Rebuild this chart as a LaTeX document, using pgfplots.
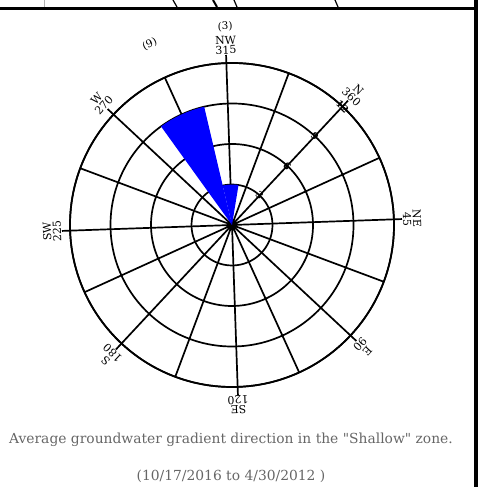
\documentclass[border=0pt]{standalone}
\usepackage{fontspec}
\setmainfont{DejaVu Serif}[Ligatures=TeXOff]
\usepackage{pgfplots}
\usepackage{pgfplotstable}
\pgfplotsset{compat=1.18}
\usepgfplotslibrary{polar}
% compass bins: direction (deg), count
\pgfplotstableread{
dir r
0 0
281.25 9
284 9
287 9
290 9
292.5 9
295 9
298 9
301 9
303.75 9
0 0
}\wedgeA
\pgfplotstableread{
dir r
0 0
303.75 3
309.4 3
315 3
320.6 3
326.25 3
0 0
}\wedgeB
\begin{document}
\begin{tikzpicture}[x=1bp,y=1bp]
\useasboundingbox (0,0) rectangle (491,487);
% remnants of frame above
\draw[line width=3bp] (0,478.5) -- (476,478.5);
\draw[line width=4bp] (476,487) -- (476,0);
\draw[gray!60, line width=1bp] (44,487) -- (44,480);
\draw[line width=1.2bp] (173,487) -- (177,480);
\draw[line width=2bp] (213,487) -- (217,480);
\draw[line width=1.2bp] (234,487) -- (237,480);
\draw[line width=1.2bp] (335,487) -- (338,480);
\begin{polaraxis}[
  at={(232bp,262bp)}, anchor=center,
  scale only axis, width=324bp, height=324bp,
  ymin=0, ymax=12,
  xtick={2,24.5,47,69.5,92,114.5,137,159.5,182,204.5,227,249.5,272,294.5,317,339.5},
  ytick={3,6,9,12},
  xticklabels={}, yticklabels={},
  grid=major,
  grid style={black, line width=1.7bp},
  major grid style={black, line width=1.7bp},
  x axis line style={black, line width=1.7bp},
  y axis line style={draw=none},
  major tick style={draw=none},
  clip=false,
]
\addplot[fill=blue, draw=none] table[x expr={47-\thisrow{dir}}, y=r] {\wedgeA};
\addplot[fill=blue, draw=none] table[x expr={47-\thisrow{dir}}, y=r] {\wedgeB};
% main spokes extend beyond rim
\foreach \a in {2,47,92,137,182,227,272,317}{
  \edef\tmp{\noexpand\draw[black, line width=1.7bp] (axis cs:\a,11.9) -- (axis cs:\a,12.6);}\tmp
}
% direction labels
\foreach \a/\n/\d in {47/N/360, 2/NE/45, 317/E/90, 272/SE/120, 227/S/180, 182/SW/225, 137/W/270, 92/NW/315}{
  \pgfmathsetmacro{\rot}{\a-90}
  \edef\tmp{\noexpand\node[anchor=south, rotate=\rot, align=center, inner sep=0bp, font=\noexpand\fontsize{11}{10}\noexpand\selectfont] at (axis cs:\a,12.65) {\n\noexpand\\\d};}\tmp
}
% counts
\node[rotate=24.5, font=\fontsize{10.5}{10}\selectfont] at (axis cs:114.5,14.7) {(9)};
\node[rotate=2, font=\fontsize{10.5}{10}\selectfont] at (axis cs:92,14.7) {(3)};
% radial labels along N spoke
\node[rotate=-43, text=black, font=\bfseries\fontsize{9.5}{9}\selectfont, inner sep=0pt] at (axis cs:47,3) {3};
\node[rotate=-43, text=black, font=\bfseries\fontsize{9.5}{9}\selectfont, inner sep=0pt] at (axis cs:47,6) {6};
\node[rotate=-43, text=black, font=\bfseries\fontsize{9.5}{9}\selectfont, inner sep=0pt] at (axis cs:47,9) {9};
\node[rotate=-43, text=black, font=\bfseries\fontsize{9.5}{9}\selectfont, inner sep=0pt] at (axis cs:47,12) {12};
\end{polaraxis}
\node[text=black!60, font=\fontsize{13.9}{14}\selectfont] at (231,47) {Average groundwater gradient direction in the "Shallow" zone.};
\node[text=black!60, font=\fontsize{13.9}{14}\selectfont] at (231,11) {(10/17/2016 to 4/30/2012 )};
\end{tikzpicture}
\end{document}
